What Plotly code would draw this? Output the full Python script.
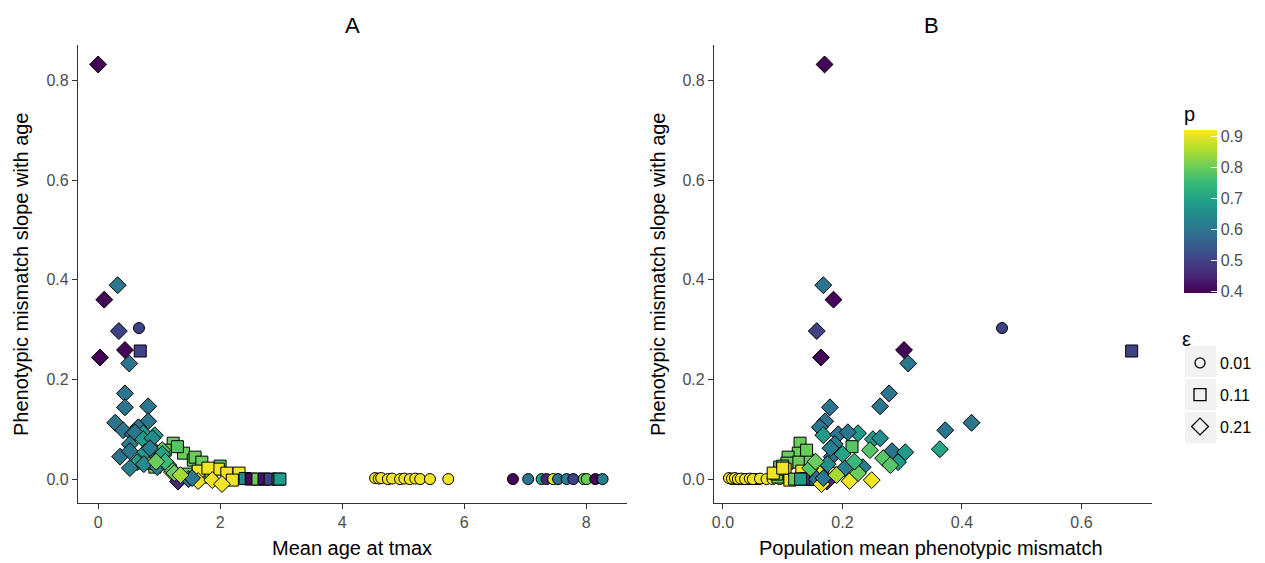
import plotly.graph_objects as go

# ---------------- data ----------------
# eps = 0.01 (circles)
circ_age = [6.80, 7.05, 7.27, 7.35, 7.46, 7.54, 7.68, 7.79, 7.96, 8.01, 8.15, 8.27,
            4.54, 4.60, 4.64, 4.75, 4.82, 4.95, 5.02, 5.11, 5.20, 5.28, 5.44, 5.74,
            0.67]
circ_mis = [0.020, 0.030, 0.025, 0.040, 0.015, 0.035, 0.045, 0.050, 0.030, 0.055, 0.060, 0.040,
            0.010, 0.015, 0.020, 0.025, 0.030, 0.037, 0.045, 0.050, 0.062, 0.073, 0.083, 0.095,
            0.467]
circ_slope = [0.000, 0.000, 0.000, 0.000, 0.000, 0.000, 0.000, 0.000, 0.000, 0.000, 0.000, 0.000,
              0.002, 0.001, 0.002, 0.000, 0.001, 0.000, 0.001, 0.000, 0.001, 0.000, 0.000, 0.000,
              0.303]
circ_p = [0.40, 0.60, 0.70, 0.45, 0.90, 0.60, 0.62, 0.50, 0.80, 0.80, 0.40, 0.62,
          0.91, 0.91, 0.91, 0.91, 0.91, 0.91, 0.91, 0.91, 0.91, 0.91, 0.91, 0.91,
          0.50]

# eps = 0.11 (squares)
sq_age = [0.69, 1.23, 1.40, 1.30, 1.56, 1.59, 1.70, 0.93, 0.77, 1.85, 1.45, 1.10, 2.00,
          1.64, 1.97, 2.11, 2.31, 2.20, 1.80,
          2.41, 2.51, 2.62, 2.72, 2.82, 2.95, 2.98]
sq_mis = [0.684, 0.129, 0.126, 0.216, 0.142, 0.109, 0.126, 0.095, 0.107, 0.092, 0.090, 0.140, 0.100,
          0.132, 0.104, 0.084, 0.187, 0.112, 0.100,
          0.140, 0.150, 0.120, 0.145, 0.135, 0.155, 0.130]
sq_slope = [0.257, 0.072, 0.052, 0.065, 0.038, 0.044, 0.034, 0.024, 0.032, 0.004, 0.010, 0.058, 0.026,
            0.016, 0.020, 0.012, 0.012, -0.002, 0.022,
            0.001, 0.000, 0.000, 0.000, 0.000, 0.000, 0.000]
sq_p = [0.50, 0.80, 0.80, 0.78, 0.80, 0.80, 0.80, 0.80, 0.80, 0.80, 0.80, 0.80, 0.78,
        0.91, 0.91, 0.91, 0.91, 0.91, 0.91,
        0.65, 0.40, 0.80, 0.42, 0.50, 0.62, 0.68]

# eps = 0.21 (diamonds)
dia_age = [0.00, 0.32, 0.10, 0.34, 0.03, 0.44, 0.51, 0.44, 0.44, 0.82, 0.28, 0.82,
           0.41, 0.66, 0.90, 0.93, 0.57, 0.74, 0.60, 0.36, 0.52, 0.74, 0.89, 0.52,
           0.77, 1.05, 0.64, 0.52, 1.00, 1.15, 0.97, 1.21, 1.31, 1.48, 1.18, 1.64,
           1.87, 2.03, 1.54, 1.25, 0.75, 0.85, 1.05, 1.35, 1.10, 0.95]
dia_mis = [0.170, 0.168, 0.185, 0.157, 0.164, 0.303, 0.310, 0.278, 0.179, 0.263, 0.416, 0.171,
           0.372, 0.162, 0.363, 0.168, 0.193, 0.226, 0.209, 0.182, 0.187, 0.251, 0.263, 0.283,
           0.305, 0.246, 0.293, 0.204, 0.268, 0.280, 0.234, 0.159, 0.174, 0.157, 0.146, 0.212,
           0.249, 0.165, 0.168, 0.226, 0.175, 0.180, 0.200, 0.190, 0.220, 0.155]
dia_slope = [0.832, 0.389, 0.360, 0.297, 0.244, 0.259, 0.232, 0.172, 0.144, 0.146, 0.113, 0.116,
             0.098, 0.104, 0.060, 0.088, 0.090, 0.092, 0.094, 0.045, 0.070, 0.080, 0.082, 0.056,
             0.054, 0.058, 0.034, 0.022, 0.042, 0.028, 0.024, 0.014, -0.005, 0.000, 0.022, -0.004,
             -0.002, -0.010, 0.002, 0.012, 0.030, 0.062, 0.050, 0.008, 0.035, 0.035]
dia_p = [0.40, 0.60, 0.40, 0.50, 0.40, 0.40, 0.60, 0.60, 0.60, 0.60, 0.60, 0.60,
         0.60, 0.60, 0.70, 0.68, 0.60, 0.68, 0.60, 0.60, 0.62, 0.68, 0.65, 0.60,
         0.68, 0.78, 0.68, 0.62, 0.78, 0.78, 0.62, 0.91, 0.45, 0.60, 0.78, 0.91,
         0.91, 0.91, 0.60, 0.80, 0.65, 0.62, 0.70, 0.85, 0.75, 0.80]

eps_levels = ["0.01", "0.11", "0.21"]
p_ticks = [0.4, 0.5, 0.6, 0.7, 0.8, 0.9]
y_ticks = [0.0, 0.2, 0.4, 0.6, 0.8]
xa_ticks = [0, 2, 4, 6, 8]
xb_ticks = [0.0, 0.2, 0.4, 0.6]

# ---------------- assemble ----------------
age = circ_age + sq_age + dia_age
mis = circ_mis + sq_mis + dia_mis
slope = circ_slope + sq_slope + dia_slope
pval = circ_p + sq_p + dia_p
symbols = (["circle"] * len(circ_age) + ["square"] * len(sq_age) + ["diamond"] * len(dia_age))
sizes = ([11] * len(circ_age) + [12] * len(sq_age) + [13] * len(dia_age))

CMIN, CMAX = 0.395, 0.921
FONT = "Liberation Sans, Arial, sans-serif"
W, H = 1265, 563
CB_TOP, CB_BOT, CB_LEFT = 130, 293, 1184

def px_x(v):
    return v / W

def px_y(v):
    return 1 - v / H

fig = go.Figure()

marker_common = dict(
    color=pval, colorscale="Viridis", cmin=CMIN, cmax=CMAX,
    symbol=symbols, size=sizes,
    line=dict(color="black", width=1), opacity=1,
)

fig.add_trace(go.Scatter(
    x=age, y=slope, mode="markers", xaxis="x", yaxis="y", showlegend=False,
    marker=dict(**marker_common, showscale=False), hoverinfo="skip",
))
fig.add_trace(go.Scatter(
    x=mis, y=slope, mode="markers", xaxis="x2", yaxis="y2", showlegend=False,
    marker=dict(**marker_common, showscale=True,
                colorbar=dict(
                    title=dict(text="p", side="top", font=dict(size=20, family=FONT, color="black")),
                    x=px_x(CB_LEFT), xanchor="left",
                    y=px_y(CB_BOT), yanchor="bottom",
                    lenmode="pixels", len=190,
                    thickness=33, thicknessmode="pixels",
                    outlinewidth=0, xpad=0, ypad=0,
                    tickvals=p_ticks, ticktext=[f"{v:.1f}" for v in p_ticks],
                    ticks="inside", ticklen=6, tickcolor="white", tickwidth=1,
                    tickfont=dict(size=16, family=FONT, color="#4d4d4d"),
                )),
    hoverinfo="skip",
))

# legend-only traces for epsilon shapes
for lab, sym, sz in zip(eps_levels, ["circle-open", "square-open", "diamond-open"], [10, 12, 13]):
    fig.add_trace(go.Scatter(
        x=[None], y=[None], mode="markers", name=lab, legendgroup=lab,
        marker=dict(symbol=sym, size=sz, color="black", line=dict(width=1.3)),
        xaxis="x2", yaxis="y2",
    ))

axis_common = dict(
    showgrid=False, zeroline=False, showline=True, linecolor="#333333", linewidth=1.2,
    ticks="outside", ticklen=5, tickcolor="#333333", tickwidth=1,
    tickfont=dict(size=16, family=FONT, color="#4d4d4d"),
    mirror=False,
)

ydom = [px_y(503), px_y(45)]
fig.update_layout(
    width=W, height=H,
    margin=dict(l=0, r=0, t=0, b=0, autoexpand=False),
    paper_bgcolor="white", plot_bgcolor="white",
    font=dict(family=FONT, color="black"),
    xaxis=dict(domain=[px_x(78), px_x(627)], range=[-0.33, 8.67], anchor="y",
               tickvals=xa_ticks, ticktext=[str(v) for v in xa_ticks], **axis_common),
    yaxis=dict(domain=ydom, range=[-0.048, 0.871], anchor="x",
               tickvals=y_ticks, ticktext=[f"{v:.1f}" for v in y_ticks], **axis_common),
    xaxis2=dict(domain=[px_x(714), px_x(1152)], range=[-0.015, 0.718], anchor="y2",
                tickvals=xb_ticks, ticktext=[f"{v:.1f}" for v in xb_ticks], **axis_common),
    yaxis2=dict(domain=ydom, range=[-0.048, 0.871], anchor="x2",
                tickvals=y_ticks, ticktext=[f"{v:.1f}" for v in y_ticks], **axis_common),
    legend=dict(
        x=px_x(1180), y=px_y(320), xanchor="left", yanchor="top",
        title=dict(text="ε", font=dict(size=20, family=FONT, color="black")),
        font=dict(size=16, family=FONT, color="black"),
        bgcolor="rgba(0,0,0,0)", borderwidth=0, tracegroupgap=8,
        itemsizing="trace",
    ),
)

annos = [
    dict(text="A", x=px_x(352), y=px_y(25), font=dict(size=22)),
    dict(text="B", x=px_x(931), y=px_y(25), font=dict(size=22)),
    dict(text="Mean age at tmax", x=px_x(352), y=px_y(548), font=dict(size=20)),
    dict(text="Population mean phenotypic mismatch", x=px_x(931), y=px_y(548), font=dict(size=20)),
    dict(text="Phenotypic mismatch slope with age", x=px_x(21), y=px_y(274), textangle=-90, font=dict(size=20)),
    dict(text="Phenotypic mismatch slope with age", x=px_x(658), y=px_y(274), textangle=-90, font=dict(size=20)),
]
for a in annos:
    a.update(xref="paper", yref="paper", showarrow=False, xanchor="center", yanchor="middle")
    a["font"].update(family=FONT, color="black")
fig.update_layout(annotations=annos)

# grey legend key backgrounds
shapes = []
for top in [346, 379, 412]:
    shapes.append(dict(type="rect", xref="paper", yref="paper",
                       x0=px_x(1185), x1=px_x(1216), y0=px_y(top + 31), y1=px_y(top),
                       fillcolor="#f2f2f2", line=dict(width=0), layer="below"))
# white tick marks on the left edge of the colour bar
for v in p_ticks:
    yy = CB_BOT - (v - CMIN) / (CMAX - CMIN) * (CB_BOT - CB_TOP)
    shapes.append(dict(type="line", xref="paper", yref="paper",
                       x0=px_x(CB_LEFT), x1=px_x(CB_LEFT + 6), y0=px_y(yy), y1=px_y(yy),
                       line=dict(color="white", width=1), layer="above"))
fig.update_layout(shapes=shapes)

fig.write_html("out.html")
